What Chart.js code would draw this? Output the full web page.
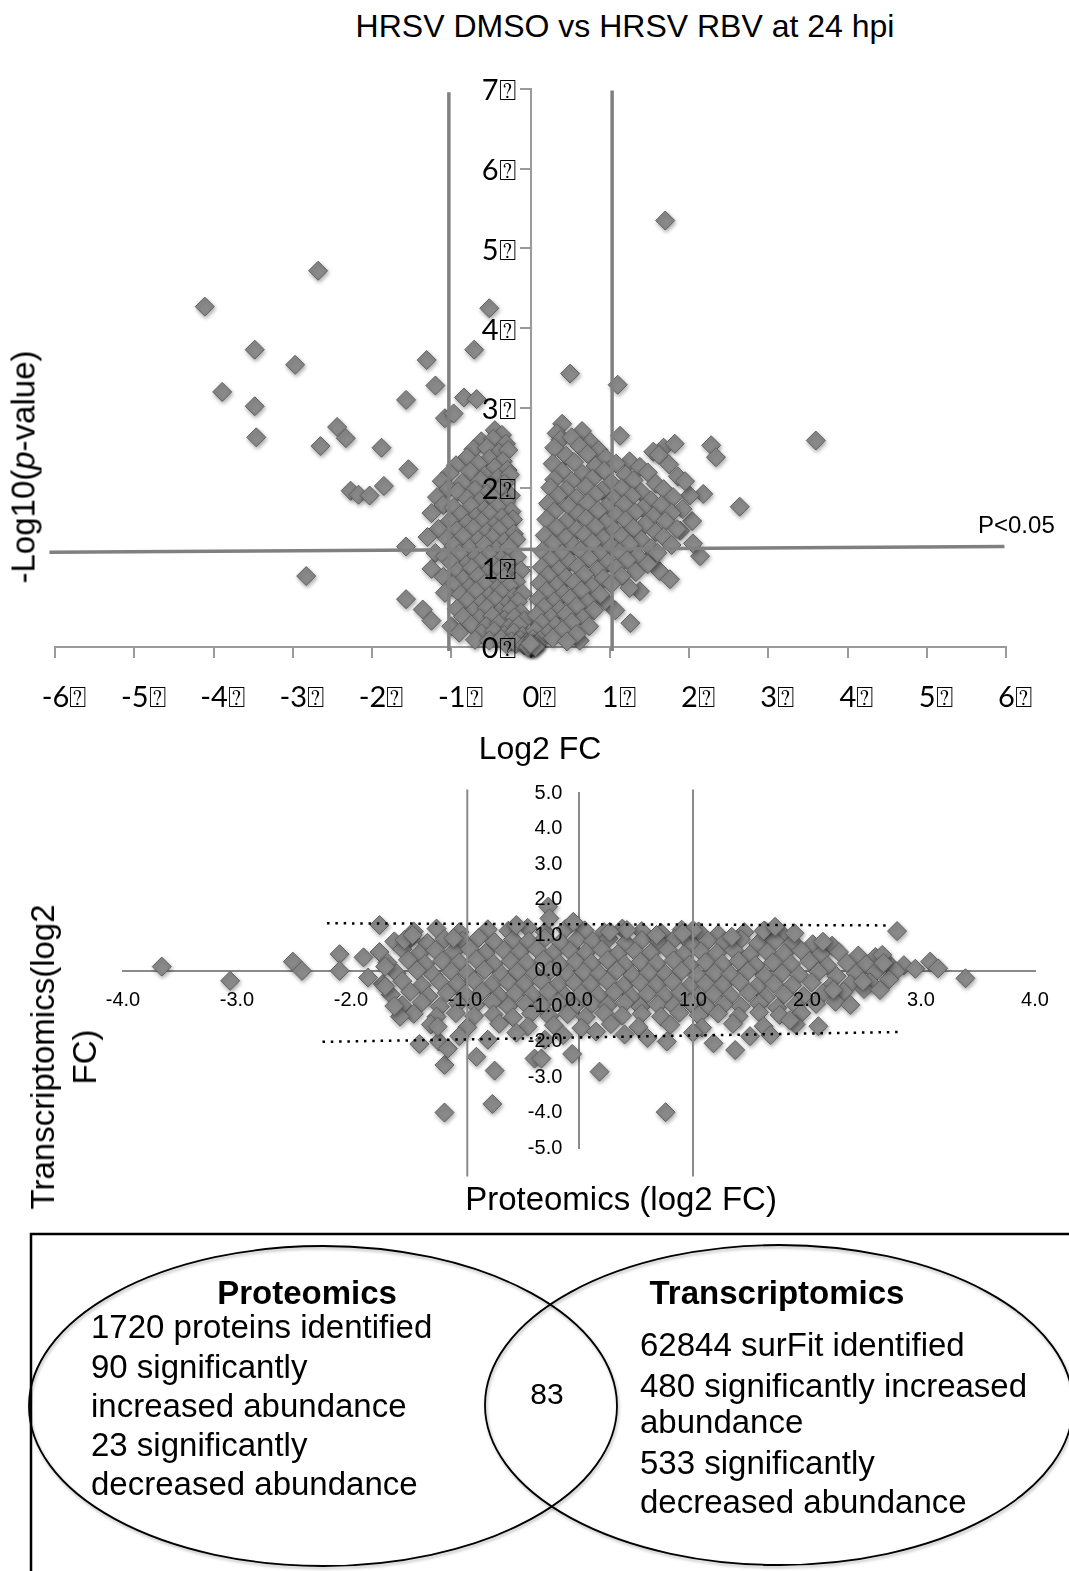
<!DOCTYPE html>
<html><head><meta charset="utf-8">
<script src="https://cdn.jsdelivr.net/npm/chart.js@4.4.1/dist/chart.umd.min.js"></script>
<style>
html,body{margin:0;padding:0;background:#fff;}
body{width:1069px;height:1571px;position:relative;overflow:hidden;font-family:'Liberation Sans',Arial,sans-serif;color:#000;}
.t{position:absolute;white-space:nowrap;line-height:1;}
canvas{position:absolute;left:0;}
svg text{dominant-baseline:central;font-family:'Liberation Sans',Arial,sans-serif;}
</style></head><body>
<div class="t" style="left:625px;top:10px;font-size:32px;transform:translateX(-50%)">HRSV DMSO vs HRSV RBV at 24 hpi</div>
<canvas id="c1" width="1069" height="780" style="top:0"></canvas>
<canvas id="c2" width="1069" height="460" style="top:760px"></canvas>
<div class="t" style="left:23px;top:467px;font-size:33px;transform:translate(-50%,-50%) rotate(-90deg)">-Log10(<i>p</i>-value)</div>
<div class="t" style="left:540px;top:732px;font-size:32px;transform:translateX(-50%)">Log2 FC</div>
<div class="t" style="left:978px;top:513px;font-size:24px;">P&lt;0.05</div>
<div class="t" style="left:64px;top:1057px;font-size:33px;line-height:42px;text-align:center;transform:translate(-50%,-50%) rotate(-90deg)">Transcriptomics(log2<br>FC)</div>
<div class="t" style="left:621px;top:1182px;font-size:33px;transform:translateX(-50%)">Proteomics (log2 FC)</div>
<svg style="position:absolute;left:0;top:1220px" width="1069" height="351" viewBox="0 0 1069 351">
<defs><filter id="sh" x="-5%" y="-5%" width="110%" height="110%"><feDropShadow dx="1" dy="2" stdDeviation="1.5" flood-opacity="0.3"/></filter></defs>
<rect x="31" y="14" width="1100" height="400" fill="none" stroke="#000" stroke-width="2.5"/>
<ellipse cx="323" cy="186" rx="294" ry="160" fill="none" stroke="#000" stroke-width="1.8" filter="url(#sh)"/>
<ellipse cx="779" cy="185" rx="294" ry="160" fill="none" stroke="#000" stroke-width="1.8" filter="url(#sh)"/>
<g font-size="33">
<text x="307" y="72" text-anchor="middle" font-weight="bold">Proteomics</text>
<text x="91" y="106">1720 proteins identified</text>
<text x="91" y="146">90 significantly</text>
<text x="91" y="185">increased abundance</text>
<text x="91" y="224">23 significantly</text>
<text x="91" y="263">decreased abundance</text>
<text x="777" y="72" text-anchor="middle" font-weight="bold">Transcriptomics</text>
<text x="640" y="124">62844 surFit identified</text>
<text x="640" y="165">480 significantly increased</text>
<text x="640" y="201">abundance</text>
<text x="640" y="242">533 significantly</text>
<text x="640" y="281">decreased abundance</text>
<text x="547" y="173" text-anchor="middle" font-size="30">83</text>
</g></svg>
<script>
// ---------- Top volcano plot data ----------
const topXLabels = ['-6⍰','-5⍰','-4⍰','-3⍰','-2⍰','-1⍰','0⍰','1⍰','2⍰','3⍰','4⍰','5⍰','6⍰'];
const topYLabels = ['0⍰','1⍰','2⍰','3⍰','4⍰','5⍰','6⍰','7⍰'];
const topFoldLines = [[-1.03,-0.05,-1.03,6.96],[1.03,-0.05,1.03,6.98]];
const topPLine = [[-6.07,1.19],[5.98,1.26]];
const topOutliers = [
[1.70,5.35],[-2.68,4.72],[-4.11,4.27],[-0.52,4.25],[-3.48,3.73],[-0.71,3.73],[-2.97,3.54],[-1.31,3.60],[0.50,3.43],[-3.89,3.20],
[-1.20,3.28],[1.10,3.29],[-3.48,3.02],[-1.57,3.10],[-0.84,3.13],[-0.68,3.11],[-1.08,2.87],[-0.97,2.93],[-2.44,2.76],[-2.33,2.62],
[-3.46,2.63],[-2.65,2.52],[-1.88,2.50],[3.60,2.59],[2.28,2.53],[2.34,2.38],[1.68,2.50],[1.82,2.55],[2.64,1.76],[2.18,1.92],
[-1.54,2.23],[-1.85,2.02],[-2.27,1.96],[-2.17,1.91],[-2.03,1.90],[-1.57,1.26],[-2.83,0.89],[-1.57,0.60],[-1.36,0.47],[-1.25,0.33],
[-1.00,0.26],[1.63,0.95],[1.76,0.85],[2.14,1.14],[1.26,0.30],[1.07,0.46],[0.62,0.08],[1.13,2.65],[2.04,1.58],[1.89,1.46],
[2.01,1.90],[1.53,1.14],[1.38,0.70],[0.94,0.58],[0.37,0.20]
];
const topLeftArm = [
[-0.45,2.72],[-0.36,2.66],[-0.62,2.58],[-0.47,2.61],[-0.31,2.55],[-0.72,2.48],[-0.55,2.50],[-0.40,2.44],[-0.28,2.47],
[-0.80,2.38],[-0.52,2.36],[-0.35,2.33],[-0.94,2.28],[-0.66,2.30],[-0.45,2.25],[-0.29,2.22],
[-1.02,2.18],[-0.76,2.20],[-0.58,2.15],[-0.41,2.12],[-0.26,2.16],[-1.12,2.08],[-0.86,2.06],[-0.63,2.09],[-0.49,2.02],[-0.33,2.05],
[-1.04,1.98],[-0.92,1.95],[-0.70,1.97],[-0.55,1.92],[-0.40,1.96],[-0.25,1.90],[-1.18,1.88],[-0.80,1.86],[-0.64,1.83],[-0.47,1.87],[-0.31,1.82],
[-1.10,1.78],[-0.97,1.75],[-0.75,1.77],[-0.58,1.72],[-0.42,1.76],[-0.24,1.70],[-1.25,1.68],[-0.88,1.66],[-0.69,1.63],[-0.52,1.67],[-0.36,1.62],[-0.22,1.60],
[-1.02,1.58],[-0.80,1.55],[-0.62,1.57],[-0.46,1.52],[-0.30,1.55],[-1.16,1.48],[-0.93,1.46],[-0.72,1.49],[-0.55,1.44],[-0.40,1.47],[-0.21,1.42],
[-1.30,1.38],[-1.05,1.36],[-0.85,1.39],[-0.66,1.34],[-0.48,1.37],[-0.33,1.32],[-0.18,1.35],[-0.97,1.27],[-0.77,1.24],[-0.58,1.28],[-0.43,1.22],[-0.27,1.25],
[-1.20,1.18],[-1.08,1.14],[-0.90,1.17],[-0.70,1.12],[-0.52,1.16],[-0.37,1.10],[-0.17,1.13],[-1.00,1.06],[-0.81,1.03],[-0.63,1.07],[-0.46,1.02],[-0.30,1.05],
[-1.25,0.98],[-0.92,0.95],[-0.74,0.99],[-0.55,0.93],[-0.40,0.97],[-0.22,0.92],[-0.12,0.96],[-1.10,0.88],[-0.85,0.85],[-0.66,0.89],[-0.48,0.83],[-0.33,0.87],[-0.18,0.82],
[-0.98,0.78],[-0.77,0.75],[-0.58,0.79],[-0.42,0.73],[-0.27,0.77],[-1.08,0.68],[-0.88,0.66],[-0.69,0.70],[-0.52,0.64],[-0.37,0.68],[-0.21,0.63],[-0.10,0.67],
[-0.80,0.58],[-0.62,0.55],[-0.45,0.59],[-0.30,0.53],[-0.16,0.57],[-0.93,0.48],[-0.72,0.45],[-0.55,0.49],[-0.39,0.44],[-0.25,0.47],[-0.12,0.43],
[-0.85,0.38],[-0.64,0.36],[-0.48,0.39],[-0.33,0.34],[-0.20,0.37],[-0.08,0.33],[-0.75,0.28],[-0.56,0.26],[-0.40,0.29],[-0.27,0.24],[-0.15,0.27],
[-0.90,0.18],[-0.62,0.17],[-0.46,0.20],[-0.33,0.15],[-0.21,0.18],[-0.10,0.14],[-0.70,0.09],[-0.52,0.08],[-0.37,0.10],[-0.24,0.07],[-0.13,0.09],[-0.05,0.06],
[-0.30,0.03],[-0.18,0.04],[-0.08,0.02]
];
const topRightArm = [
[0.40,2.80],[0.65,2.71],[0.33,2.68],[0.38,2.60],[0.52,2.63],[0.76,2.57],[0.30,2.50],[0.62,2.52],[0.86,2.47],[1.55,2.45],
[0.45,2.40],[0.72,2.42],[0.95,2.37],[1.25,2.33],[1.62,2.41],[0.28,2.30],[0.55,2.32],[0.82,2.27],[1.08,2.30],[1.38,2.26],[1.75,2.29],
[0.40,2.20],[0.66,2.17],[0.93,2.21],[1.20,2.16],[1.48,2.19],[1.86,2.14],[0.30,2.10],[0.52,2.08],[0.78,2.11],[1.02,2.06],[1.30,2.09],[1.58,2.05],[1.95,2.08],
[0.25,2.00],[0.45,1.97],[0.70,2.01],[0.90,1.96],[1.15,1.99],[1.40,1.94],[1.68,1.98],[0.35,1.90],[0.58,1.87],[0.82,1.91],[1.05,1.86],[1.28,1.89],[1.52,1.84],[1.80,1.88],
[0.22,1.80],[0.48,1.77],[0.72,1.81],[0.96,1.76],[1.18,1.79],[1.42,1.74],[1.65,1.78],[1.92,1.73],[0.30,1.70],[0.60,1.67],[0.85,1.71],[1.08,1.66],[1.32,1.69],[1.55,1.64],[1.78,1.68],
[0.20,1.60],[0.45,1.57],[0.70,1.61],[0.95,1.56],[1.20,1.59],[1.45,1.54],[1.70,1.58],[0.33,1.50],[0.58,1.47],[0.82,1.51],[1.06,1.46],[1.30,1.49],[1.58,1.44],[1.85,1.48],
[0.18,1.40],[0.45,1.37],[0.68,1.41],[0.92,1.36],[1.15,1.39],[1.40,1.34],[1.68,1.38],[0.28,1.30],[0.55,1.27],[0.78,1.31],[1.02,1.26],[1.25,1.29],[1.52,1.24],[1.78,1.28],[2.05,1.30],
[0.15,1.20],[0.40,1.17],[0.63,1.21],[0.88,1.16],[1.12,1.19],[1.35,1.14],[1.60,1.18],[0.25,1.10],[0.50,1.07],[0.74,1.11],[0.98,1.06],[1.22,1.09],[1.48,1.04],
[0.14,1.00],[0.36,0.97],[0.60,1.01],[0.85,0.96],[1.08,0.99],[1.33,0.94],[0.22,0.90],[0.45,0.87],[0.68,0.91],[0.92,0.86],[1.15,0.89],
[0.12,0.80],[0.33,0.77],[0.55,0.81],[0.78,0.76],[1.02,0.79],[1.25,0.74],[0.20,0.70],[0.42,0.67],[0.64,0.71],[0.88,0.66],
[0.10,0.60],[0.30,0.57],[0.50,0.61],[0.72,0.56],[0.17,0.50],[0.37,0.47],[0.58,0.51],[0.80,0.46],[0.08,0.40],[0.26,0.37],[0.45,0.41],[0.66,0.36],
[0.14,0.30],[0.32,0.27],[0.52,0.31],[0.74,0.26],[0.06,0.20],[0.22,0.17],[0.40,0.21],[0.58,0.16],[0.03,0.10],[0.12,0.08],[0.28,0.11],[0.46,0.07],
[0.00,0.02],[0.05,0.03],[-0.02,0.01],[0.08,0.04],[0.02,0.00],[0.04,0.01],[0.01,0.01],[-0.01,0.02],[0.03,0.02],[-0.03,0.00],[0.06,0.00],[0.00,0.04]
];

// ---------- Middle scatter data ----------
const midXLabels = ['-4.0','-3.0','-2.0','-1.0','0.0','1.0','2.0','3.0','4.0'];
const midYLabels = ['-5.0','-4.0','-3.0','-2.0','-1.0','0.0','1.0','2.0','3.0','4.0','5.0'];
const midFoldLines = [[-0.98,-5.8,-0.98,5.1],[1.00,-5.8,1.00,5.1]];
const midDotLines = [[-2.21,1.33,2.70,1.27],[-2.25,-2.01,2.83,-1.73]];
const midBand = [
[-1.45,1.10],[-1.25,1.18],[-1.05,1.08],[-0.80,1.16],[-0.62,1.12],[-0.45,1.20],[-0.30,1.09],[-0.12,1.17],[0.05,1.13],[0.22,1.08],[0.38,1.18],[0.55,1.11],[0.72,1.06],[0.90,1.15],[1.05,1.10],[1.22,1.02],[1.45,1.08],[1.63,1.12],[1.78,1.03],
[-1.62,0.82],[-1.48,0.90],[-1.33,0.78],[-1.18,0.88],[-1.02,0.84],[-0.88,0.92],[-0.74,0.80],[-0.58,0.87],[-0.44,0.83],[-0.30,0.91],[-0.16,0.79],[-0.02,0.86],[0.12,0.82],[0.26,0.90],[0.41,0.78],[0.55,0.85],[0.70,0.81],[0.84,0.89],[0.98,0.77],[1.13,0.84],[1.28,0.80],[1.42,0.88],[1.57,0.76],[1.72,0.83],[1.88,0.79],[2.05,0.74],[2.22,0.70],
[-1.75,0.52],[-1.55,0.60],[-1.40,0.48],[-1.26,0.57],[-1.10,0.53],[-0.96,0.61],[-0.82,0.49],[-0.66,0.56],[-0.52,0.52],[-0.37,0.60],[-0.23,0.48],[-0.08,0.55],[0.06,0.51],[0.20,0.59],[0.34,0.47],[0.49,0.54],[0.63,0.50],[0.78,0.58],[0.92,0.46],[1.07,0.53],[1.21,0.49],[1.36,0.57],[1.50,0.45],[1.65,0.52],[1.80,0.48],[1.95,0.56],[2.12,0.46],[2.28,0.52],[2.45,0.42],[2.60,0.38],
[-1.68,0.22],[-1.50,0.30],[-1.35,0.18],[-1.20,0.27],[-1.05,0.23],[-0.90,0.31],[-0.75,0.19],[-0.60,0.26],[-0.46,0.22],[-0.31,0.30],[-0.17,0.18],[-0.03,0.25],[0.11,0.21],[0.25,0.29],[0.40,0.17],[0.54,0.24],[0.68,0.20],[0.83,0.28],[0.97,0.16],[1.11,0.23],[1.26,0.19],[1.40,0.27],[1.55,0.15],[1.70,0.22],[1.86,0.18],[2.02,0.26],[2.18,0.14],[2.35,0.21],[2.52,0.17],[2.70,0.24],[2.85,0.15],
[-1.60,-0.08],[-1.42,0.00],[-1.28,-0.12],[-1.12,-0.03],[-0.98,-0.07],[-0.83,0.01],[-0.68,-0.11],[-0.54,-0.04],[-0.39,-0.08],[-0.25,0.00],[-0.10,-0.12],[0.04,-0.05],[0.18,-0.09],[0.33,-0.01],[0.47,-0.13],[0.61,-0.06],[0.76,-0.10],[0.90,-0.02],[1.04,-0.14],[1.19,-0.07],[1.33,-0.11],[1.48,-0.03],[1.63,-0.15],[1.78,-0.08],[1.93,-0.12],[2.10,-0.04],[2.26,-0.16],[2.43,-0.09],[2.60,-0.05],[2.78,-0.02],[2.95,0.05],
[-1.72,-0.38],[-1.55,-0.30],[-1.38,-0.42],[-1.22,-0.33],[-1.07,-0.37],[-0.92,-0.29],[-0.77,-0.41],[-0.62,-0.34],[-0.48,-0.38],[-0.33,-0.30],[-0.19,-0.42],[-0.04,-0.35],[0.10,-0.39],[0.25,-0.31],[0.39,-0.43],[0.54,-0.36],[0.68,-0.40],[0.82,-0.32],[0.97,-0.44],[1.11,-0.37],[1.26,-0.41],[1.41,-0.33],[1.56,-0.45],[1.71,-0.38],[1.87,-0.42],[2.04,-0.34],[2.20,-0.46],[2.38,-0.39],[2.55,-0.33],[2.72,-0.25],
[-1.65,-0.68],[-1.48,-0.60],[-1.32,-0.72],[-1.16,-0.63],[-1.00,-0.67],[-0.85,-0.59],[-0.70,-0.71],[-0.56,-0.64],[-0.41,-0.68],[-0.27,-0.60],[-0.12,-0.72],[0.02,-0.65],[0.17,-0.69],[0.31,-0.61],[0.46,-0.73],[0.60,-0.66],[0.75,-0.70],[0.89,-0.62],[1.04,-0.74],[1.18,-0.67],[1.33,-0.71],[1.49,-0.63],[1.64,-0.75],[1.80,-0.68],[1.97,-0.72],[2.14,-0.64],[2.32,-0.60],[2.50,-0.52],
[-1.55,-0.98],[-1.38,-0.90],[-1.22,-1.02],[-1.06,-0.93],[-0.91,-0.97],[-0.76,-0.89],[-0.62,-1.01],[-0.47,-0.94],[-0.33,-0.98],[-0.18,-0.90],[-0.04,-1.02],[0.11,-0.95],[0.25,-0.99],[0.40,-0.91],[0.54,-1.03],[0.69,-0.96],[0.83,-1.00],[0.98,-0.92],[1.12,-1.04],[1.27,-0.97],[1.42,-1.01],[1.58,-0.93],[1.74,-1.05],[1.90,-0.98],[2.08,-0.94],[2.25,-0.88],
[-1.45,-1.22],[-1.25,-1.30],[-1.08,-1.20],[-0.92,-1.28],[-0.75,-1.24],[-0.58,-1.32],[-0.42,-1.21],[-0.26,-1.29],[-0.10,-1.23],[0.06,-1.31],[0.22,-1.20],[0.38,-1.27],[0.55,-1.22],[0.72,-1.30],[0.88,-1.19],[1.05,-1.26],[1.22,-1.21],[1.40,-1.29],[1.58,-1.18],[1.76,-1.25],[1.95,-1.20],
[-1.30,-1.52],[-0.98,-1.60],[-0.70,-1.50],[-0.45,-1.58],[-0.22,-1.54],[0.02,-1.62],[0.28,-1.51],[0.52,-1.59],[0.80,-1.53],[1.08,-1.61],[1.35,-1.50],[1.62,-1.57],[1.90,-1.52]
];
const midOutliers = [
[-3.66,0.11],[-3.06,-0.29],[-2.51,0.25],[-2.43,-0.01],[-2.10,0.46],[-2.10,-0.01],[-1.89,0.37],[-1.75,1.28],[-1.70,0.11],[-1.53,0.86],[-1.46,1.00],[-1.10,0.91],[-0.27,1.80],[-0.26,1.47],[-0.55,1.28],[-0.05,1.37],
[2.79,1.11],[3.08,0.25],[3.15,0.06],[3.39,-0.22],[1.62,1.12],[1.72,1.23],[1.89,1.05],[1.00,1.14],[0.91,1.05],[0.68,1.00],[0.42,1.14],[0.27,1.09],[1.34,0.95],[2.14,0.81],[2.66,0.44],[2.67,0.21],[2.49,-0.31],[2.23,-0.55],
[-1.18,-4.00],[-0.76,-3.76],[0.76,-3.99],[-0.74,-2.82],[0.18,-2.85],[-1.18,-2.66],[-0.90,-2.43],[-0.39,-2.48],[-0.33,-2.48],[-0.06,-2.35],[-1.40,-2.07],[-1.23,-2.00],[-1.15,-2.20],[-1.24,-1.58],[0.77,-2.00],[1.18,-2.05],[-1.57,-1.30],[-0.14,-1.82],
[1.37,-2.24],[1.68,-1.82],[2.10,-1.57],[1.85,-1.40],[2.38,-0.97],[2.64,-0.55],[-1.70,-0.45],[-1.85,-0.20],[-1.62,-1.00],
[-1.05,-1.85],[-0.80,-1.95],[-0.55,-1.75],[0.40,-1.80],[0.60,-1.90],[1.00,-1.75],[1.50,-1.85],[-0.30,-1.95],[0.15,-1.72]
];

// ---------- helpers ----------
const toXY = a => a.map(p => ({x:p[0], y:p[1]}));
const seg = s => [{x:s[0],y:s[1]},{x:s[2],y:s[3]}];
const GRAY_LINE = '#808080';
const TOP_GAP = '  ';    // keeps labels of the centred y axes off the axis line
const MID_GAP = '   ';
const diamond = {pointStyle:'rectRot', pointRadius:9.5, pointHoverRadius:9.5, backgroundColor:'#8a8a8a', borderColor:'#606060', borderWidth:1, order:5};
const shadowPlugin = {
  id:'ptShadow',
  beforeDatasetDraw(chart, args){ if(args.meta.type==='scatter'){ const c=chart.ctx; c.save(); c.shadowColor='rgba(0,0,0,0.35)'; c.shadowBlur=4; c.shadowOffsetX=1; c.shadowOffsetY=2; } },
  afterDatasetDraw(chart, args){ if(args.meta.type==='scatter'){ chart.ctx.restore(); } }
};
Chart.defaults.font.family = "'Liberation Sans', Arial, sans-serif";

// ---------- Top chart ----------
new Chart(document.getElementById('c1'), {
  type:'scatter',
  data:{datasets:[
    ...topFoldLines.map(s => ({type:'line', data:seg(s), borderColor:GRAY_LINE, borderWidth:3.5, pointRadius:0, clip:false, order:0})),
    {type:'line', data:toXY(topPLine), borderColor:GRAY_LINE, borderWidth:3.5, pointRadius:0, clip:false, order:0},
    Object.assign({type:'scatter', data:toXY(topOutliers.concat(topLeftArm, topRightArm)), clip:false}, diamond)
  ]},
  options:{
    responsive:false, animation:false, devicePixelRatio:1,
    layout:{padding:{left:55, right:63, top:89, bottom:0}},
    plugins:{legend:{display:false}, tooltip:{enabled:false}},
    scales:{
      x:{type:'linear', min:-6, max:6, position:'bottom',
         grid:{display:true, drawOnChartArea:false, drawTicks:true, tickLength:11, color:'#9a9a9a', lineWidth:2},
         border:{display:true, color:'#9a9a9a', width:2},
         ticks:{stepSize:1, autoSkip:false, maxRotation:0, padding:22, labelOffset:9, z:1, color:'#000', font:{family:'Lato', size:29}, callback:(v,i)=>topXLabels[i]},
         afterFit:s=>{s.height=133;}},
      y:{type:'linear', min:0, max:7, position:{x:0},
         grid:{display:true, drawOnChartArea:false, drawTicks:true, tickLength:10, color:'#9a9a9a', lineWidth:2},
         border:{display:true, color:'#9a9a9a', width:2},
         ticks:{stepSize:1, autoSkip:false, padding:5, labelOffset:2, z:1, color:'#000', font:{family:'Lato', size:29}, callback:(v,i)=>topYLabels[i]+TOP_GAP}}
    }
  },
  plugins:[shadowPlugin]
});

// ---------- Middle chart ----------
new Chart(document.getElementById('c2'), {
  type:'scatter',
  data:{datasets:[
    ...midFoldLines.map(s => ({type:'line', data:seg(s), borderColor:'#8a8a8a', borderWidth:2, pointRadius:0, clip:false, order:0})),
    ...midDotLines.map(s => ({type:'line', data:seg(s), borderColor:'#000', borderWidth:2.5, borderDash:[2.5,5.8], pointRadius:0, clip:false, order:0})),
    Object.assign({type:'scatter', data:toXY(midBand.concat(midOutliers)), clip:false}, diamond)
  ]},
  options:{
    responsive:false, animation:false, devicePixelRatio:1,
    layout:{padding:{left:123, right:34, top:33, bottom:72}},
    plugins:{legend:{display:false}, tooltip:{enabled:false}},
    scales:{
      x:{type:'linear', min:-4, max:4, position:{y:0},
         grid:{display:false, drawTicks:false},
         border:{display:true, color:'#8a8a8a', width:2},
         ticks:{stepSize:1, autoSkip:false, maxRotation:0, padding:18, z:1, color:'#000', font:{size:20}, callback:(v,i)=>midXLabels[i]}},
      y:{type:'linear', min:-5, max:5, position:{x:0},
         grid:{display:false, drawTicks:false},
         border:{display:true, color:'#8a8a8a', width:2},
         ticks:{stepSize:1, autoSkip:false, padding:18, z:1, color:'#000', font:{size:20}, callback:(v,i)=>midYLabels[i]+MID_GAP}}
    }
  },
  plugins:[shadowPlugin]
});
</script>
</body></html>
